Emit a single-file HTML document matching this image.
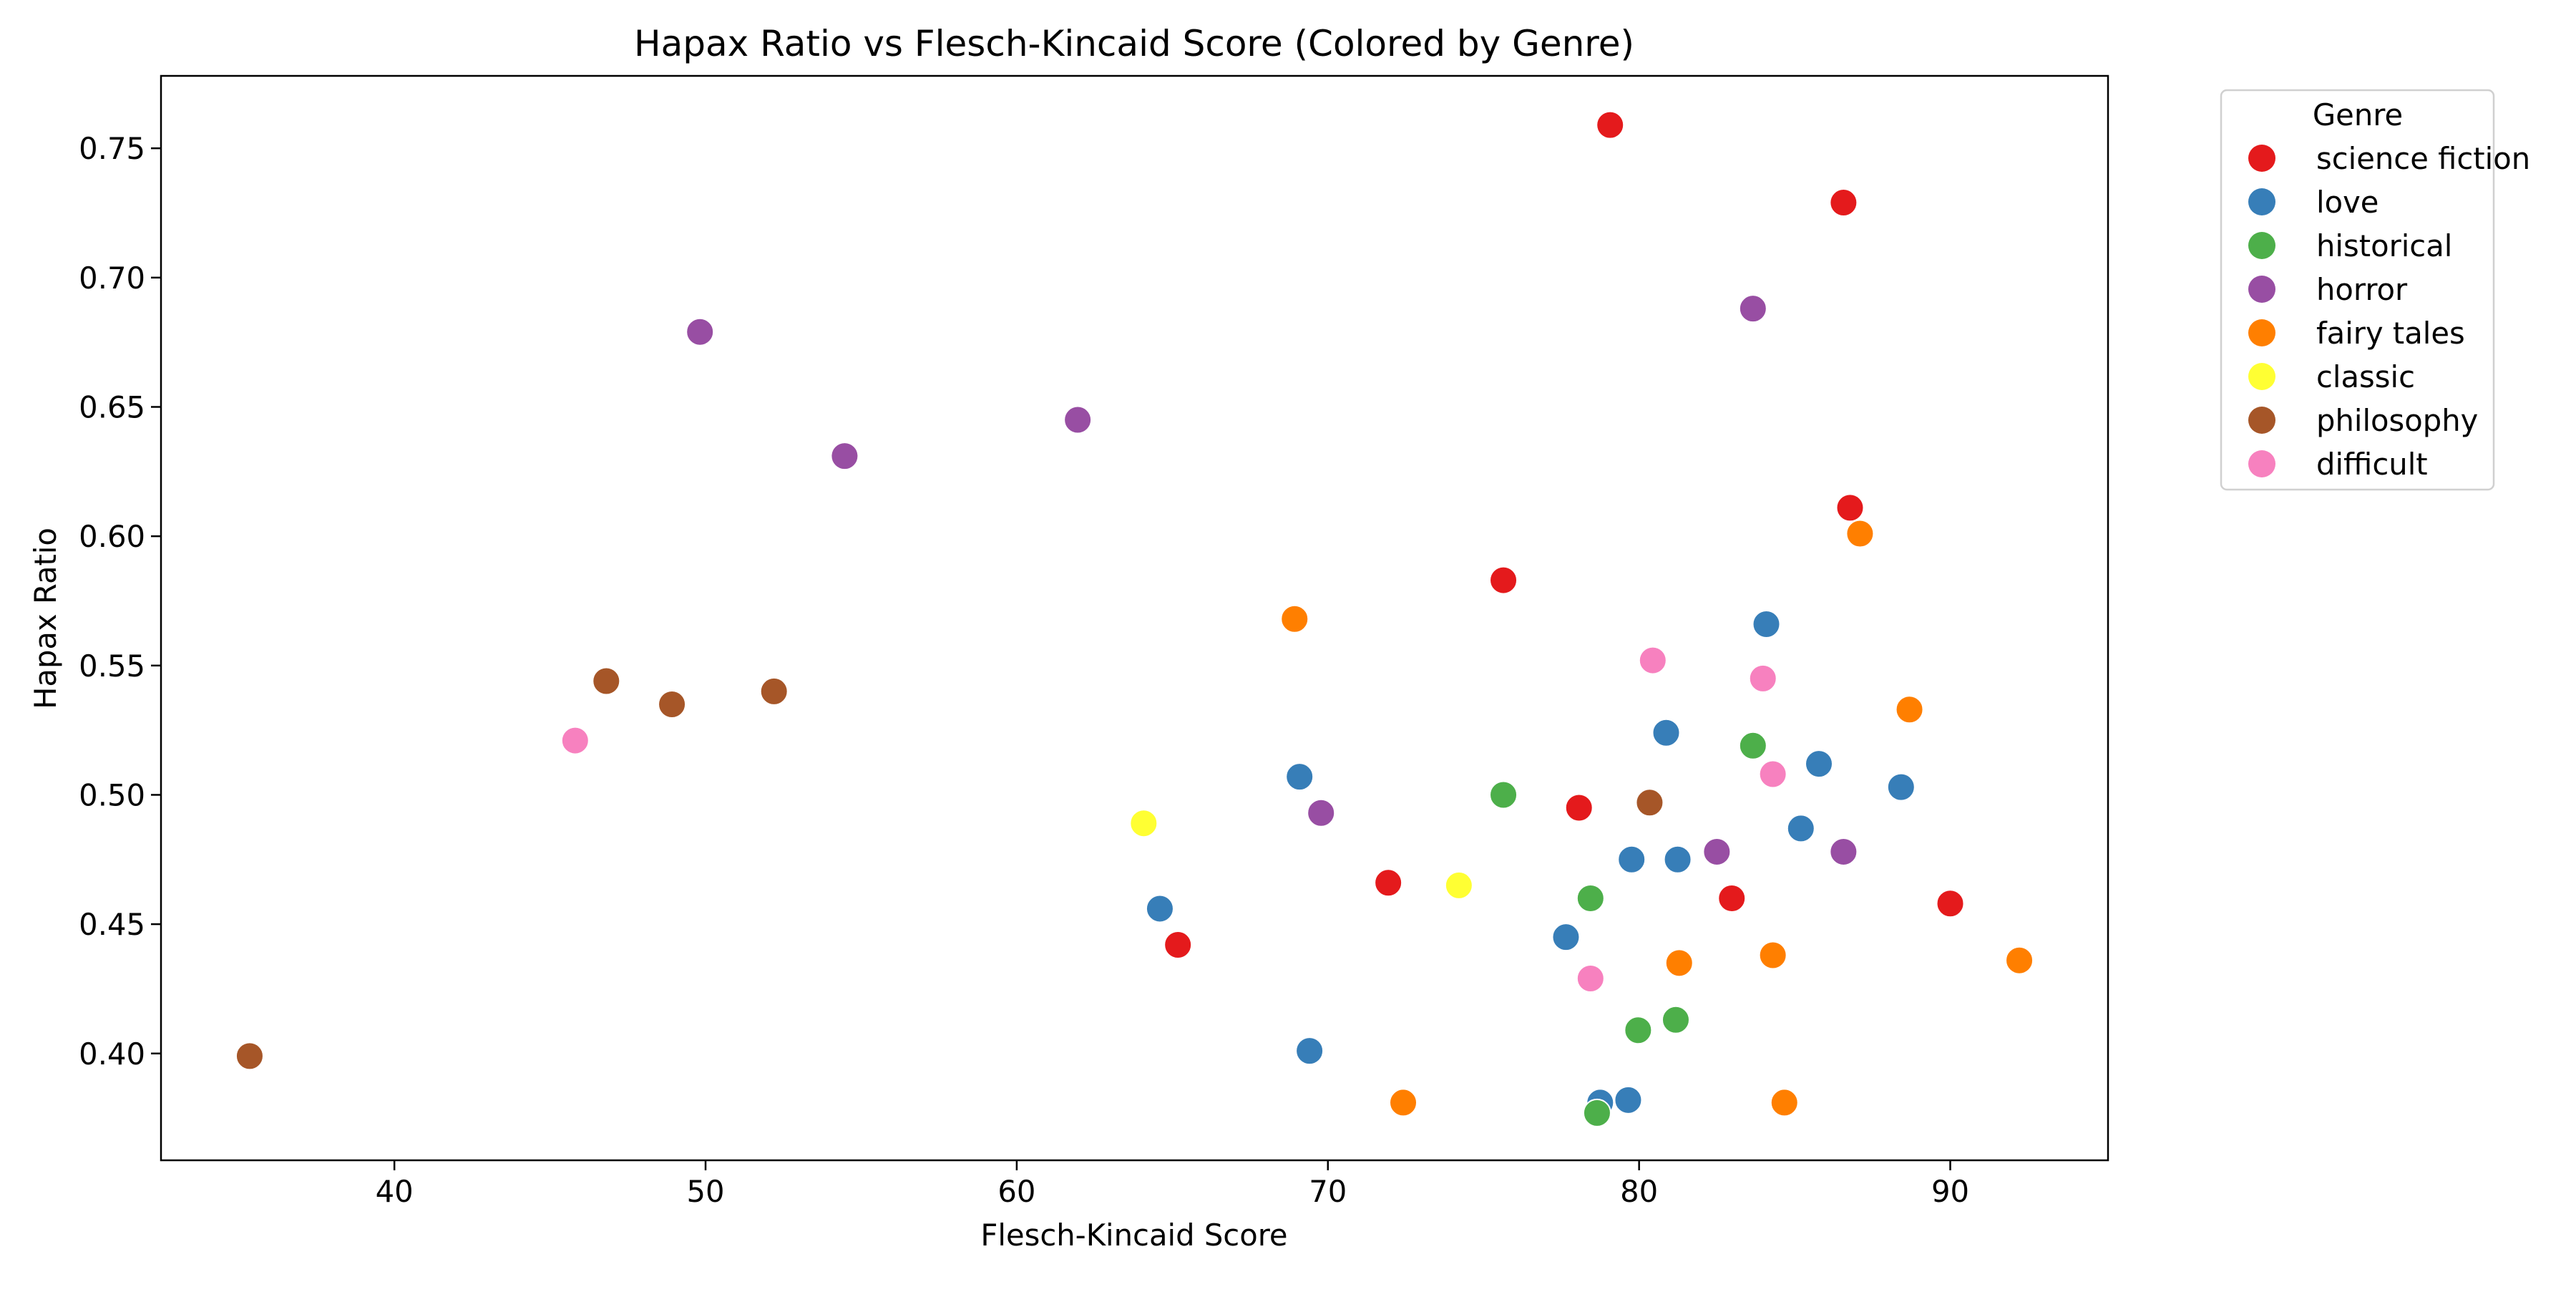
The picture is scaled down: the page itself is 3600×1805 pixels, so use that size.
<!DOCTYPE html>
<html><head><meta charset="utf-8"><style>
html,body{margin:0;padding:0;background:#fff;}
svg text{font-family:"DejaVu Sans","Liberation Sans",sans-serif;fill:#000;}
</style></head><body>
<svg id="chart" width="3600" height="1800" viewBox="0 0 3600 1800" xmlns="http://www.w3.org/2000/svg">
<rect width="3600" height="1800" fill="#fff"/>
<text x="1585" y="78" font-size="50" text-anchor="middle">Hapax Ratio vs Flesch-Kincaid Score (Colored by Genre)</text>
<text x="1585" y="1740" font-size="41.7" text-anchor="middle">Flesch-Kincaid Score</text>
<text x="0" y="0" font-size="41.7" text-anchor="middle" transform="translate(78,864) rotate(-90)">Hapax Ratio</text>
<g id="ticks"></g>
<g id="points"></g>
<rect x="225" y="106" width="2721" height="1515" fill="none" stroke="#000" stroke-width="2.5"/>
<g id="legend">
<rect x="3104" y="126" width="381" height="558" rx="8" fill="#fff" stroke="#d0d0d0" stroke-width="2.5"/>
<text x="3295" y="175" font-size="41.7" text-anchor="middle">Genre</text>
</g>
</svg>
<script>
const genres=["science fiction","love","historical","horror","fairy tales","classic","philosophy","difficult"];
const colors=["#e41a1c","#377eb8","#4daf4a","#984ea3","#ff7f00","#ffff33","#a65628","#f781bf"];
const sfX=[79.07,86.57,86.78,75.64,78.07,71.94,82.98,65.18,90.0];
const sfY=[0.759,0.729,0.611,0.583,0.495,0.466,0.460,0.442,0.458];
const loveX=[84.09,80.87,85.78,69.09,88.42,85.2,79.76,81.24,64.6,77.65,69.41,78.75,79.65];
const loveY=[0.566,0.524,0.512,0.507,0.503,0.487,0.475,0.475,0.456,0.445,0.401,0.381,0.382];
const histX=[83.66,75.64,78.44,81.18,79.97,78.65];
const histY=[0.519,0.500,0.460,0.413,0.409,0.377];
const horrorX=[83.66,49.82,54.47,61.96,69.78,82.5,86.57];
const horrorY=[0.688,0.679,0.631,0.645,0.493,0.478,0.478];
const fairyX=[87.1,68.93,88.69,84.3,81.29,92.22,72.42,84.67];
const fairyY=[0.601,0.568,0.533,0.438,0.435,0.436,0.381,0.381];
const classicX=[64.08,74.21];
const classicY=[0.489,0.465];
const philX=[35.35,46.81,48.92,52.2,80.34];
const philY=[0.399,0.544,0.535,0.540,0.497];
const diffX=[45.81,80.44,83.98,84.3,78.44];
const diffY=[0.521,0.552,0.545,0.508,0.429];
const xTicks=[40,50,60,70,80,90];
const yTicks=[0.40,0.45,0.50,0.55,0.60,0.65,0.70,0.75];
const seriesX=[sfX,loveX,histX,horrorX,fairyX,classicX,philX,diffX];
const seriesY=[sfY,loveY,histY,horrorY,fairyY,classicY,philY,diffY];

const L=225,R=2946,T=106,B=1621;
const xMin=32.5,xMax=95.07,yMin=0.3587,yMax=0.778;
function sx(v){return L+(v-xMin)/(xMax-xMin)*(R-L);}
function sy(v){return B-(v-yMin)/(yMax-yMin)*(B-T);}
const NS="http://www.w3.org/2000/svg";
function mk(tag,attrs,parent){const e=document.createElementNS(NS,tag);for(const k in attrs)e.setAttribute(k,attrs[k]);parent.appendChild(e);return e;}
const tg=document.getElementById('ticks');
xTicks.forEach(v=>{
  const l=mk('line',{x1:sx(v),x2:sx(v),y1:B,y2:B+14,stroke:'#000','stroke-width':2.5},tg);
  
  
  const t=mk('text',{x:sx(v),y:B+58,'font-size':41.7,'text-anchor':'middle'},tg);
  t.textContent=String(v);
  
  
});
yTicks.forEach(v=>{
  const l=mk('line',{x1:L-14,x2:L,y1:sy(v),y2:sy(v),stroke:'#000','stroke-width':2.5},tg);
  
  
  const t=mk('text',{x:L-22,y:sy(v)+15,'font-size':41.7,'text-anchor':'end'},tg);
  t.textContent=v.toFixed(2);
  
  
});
const pg=document.getElementById('points');
seriesX.forEach((xs,i)=>{
  xs.forEach((xv,j)=>{
    const c=mk('circle',{cx:sx(xv),cy:sy(seriesY[i][j]),r:19,fill:colors[i],stroke:'#fff','stroke-width':2},pg);
    
    
  });
});
const lg=document.getElementById('legend');
genres.forEach((g,i)=>{
  const y=221+i*61;
  const c=mk('circle',{cx:3161,cy:y,r:19,fill:colors[i]},lg);
  
  
  const t=mk('text',{x:3237,y:y+15,'font-size':41.7},lg);
  t.textContent=g;
  
  
});
</script>
</body></html>
